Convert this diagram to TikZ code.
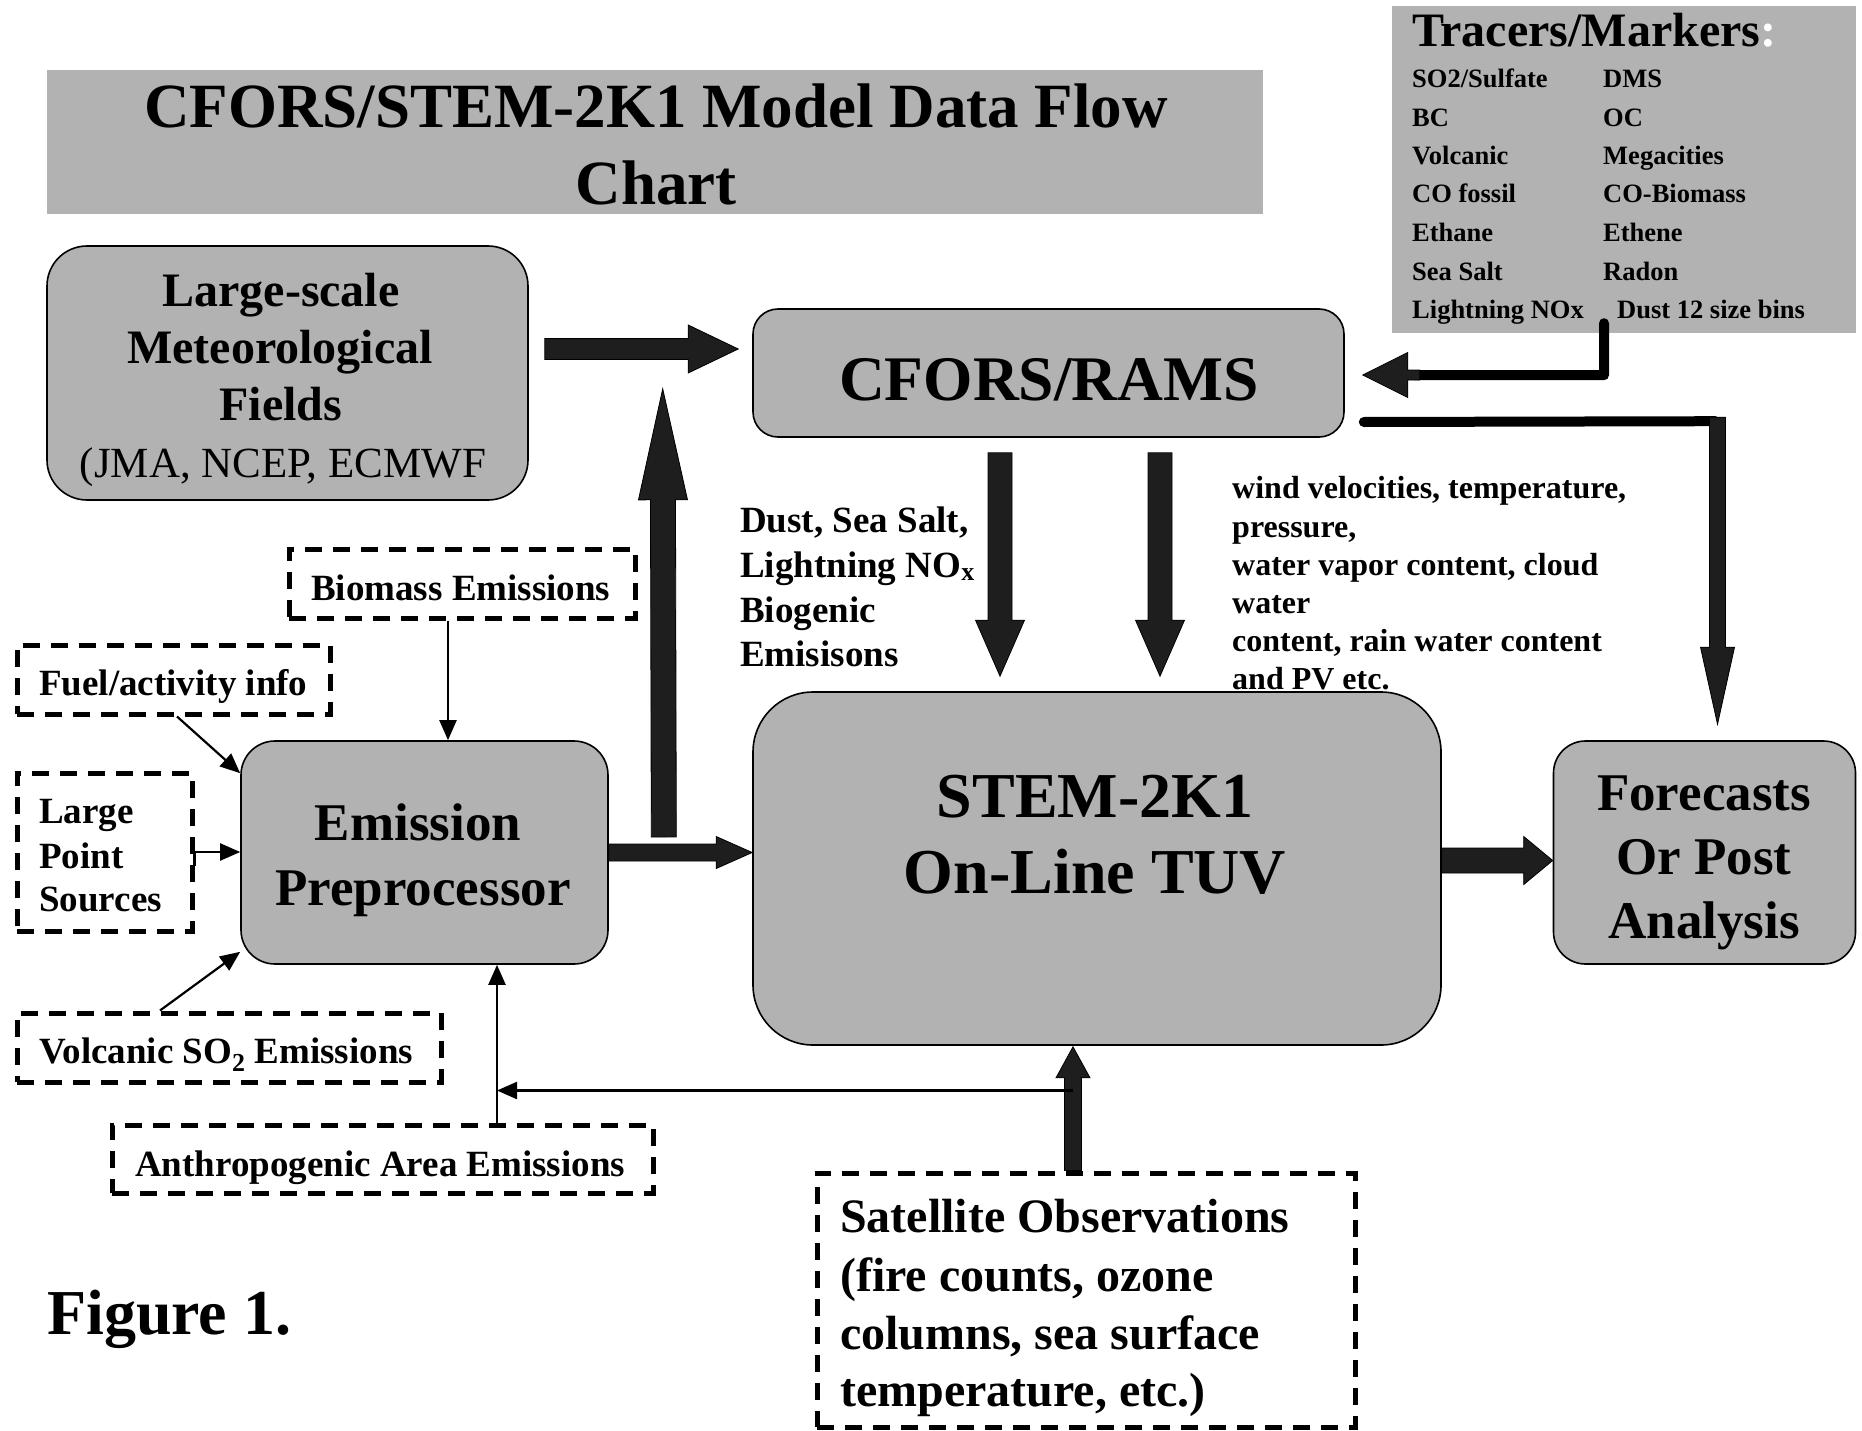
\documentclass[tikz,border=0pt]{standalone}
\usepackage{fontspec}
\setmainfont{Liberation Serif}
\usetikzlibrary{arrows.meta,calc}
\definecolor{boxgray}{RGB}{178,178,178}
\definecolor{arrdark}{RGB}{30,30,30}
\newcommand{\fsz}[2]{\fontsize{#1}{#2}\selectfont}
% block arrow: start, end, shaft half width, head length, head half width
\newcommand{\blkarrow}[5]{%
  \filldraw[fill=arrdark, draw=black, line width=0.8pt]
   let \p1=#1, \p2=#2, \n1={atan2(\y2-\y1,\x2-\x1)}, \n2={veclen(\x2-\x1,\y2-\y1)} in
   [shift={(\p1)}, rotate=\n1]
   (0pt,#3pt) -- ({\n2-#4},#3pt) -- ({\n2-#4},#5pt) -- ({\n2+0},0pt) -- ({\n2-#4},-#5pt) -- ({\n2-#4},-#3pt) -- (0pt,-#3pt) -- cycle;}
\begin{document}
\begin{tikzpicture}[x=1pt,y=-1pt,
  rbox/.style={draw=black, line width=1.6pt, fill=boxgray, inner sep=0pt},
  dbox/.style={draw=black, line width=5pt, dash pattern=on 17pt off 11pt, inner sep=0pt},
  gbox/.style={fill=boxgray, inner sep=0pt},
  lbl/.style={inner sep=0pt, anchor=base},
  lbll/.style={inner sep=0pt, anchor=base west},
  thinarr/.style={draw=black, line width=2.2pt, -{Triangle[length=20pt,width=17pt]}},
  fat/.style={draw=black, line width=10pt, line cap=round, line join=round},
]
\fill[white] (0,0) rectangle (1862,1431);
\useasboundingbox (0,0) rectangle (1862,1431);

% ---------- title ----------
\node[gbox, minimum width=1216, minimum height=144] (title) at (655,142) {};
\node[lbl, font=\bfseries\fsz{63}{77}] (titleA) at (656,128) {CFORS/STEM-2K1 Model Data Flow};
\node[lbl, font=\bfseries\fsz{63}{77}] (titleB) at (656,205) {Chart};

% ---------- tracers ----------
\node[gbox, minimum width=464, minimum height=327] (tracers) at (1624,169.5) {};
\node[lbll, font=\bfseries\fsz{48}{58}] (trTitle) at (1412,47) {Tracers/Markers\textcolor{white}{ :}};
\begin{scope}[every node/.style={lbll, font=\bfseries\fsz{26.5}{32}}]
\node (tr1a) at (1412,88) {SO2/Sulfate};
\node (tr1b) at (1603,88) {DMS};
\node (tr2a) at (1412,127) {BC};
\node (tr2b) at (1603,127) {OC};
\node (tr3a) at (1412,165) {Volcanic};
\node (tr3b) at (1603,165) {Megacities};
\node (tr4a) at (1412,203) {CO fossil};
\node (tr4b) at (1603,203) {CO-Biomass};
\node (tr5a) at (1412,242) {Ethane};
\node (tr5b) at (1603,242) {Ethene};
\node (tr6a) at (1412,280) {Sea Salt};
\node (tr6b) at (1603,280) {Radon};
\node (tr7a) at (1412,318) {Lightning NOx};
\node (tr7b) at (1617,318) {Dust 12 size bins};
\end{scope}

% ---------- main boxes ----------
\node[rbox, rounded corners=40pt, minimum width=481, minimum height=254] (met) at (287.5,373) {};
\node[lbl, font=\bfseries\fsz{48}{57}] (metA) at (281,306) {Large-scale};
\node[lbl, font=\bfseries\fsz{48}{57}] (metB) at (280,363) {Meteorological};
\node[lbl, font=\bfseries\fsz{48}{57}] (metC) at (281,420) {Fields};
\node[lbl, font=\fsz{43}{52}] (metD) at (283,477) {(JMA, NCEP, ECMWF};

\node[rbox, rounded corners=25pt, minimum width=591, minimum height=128] (cfors) at (1048.5,373) {};
\node[lbl, font=\bfseries\fsz{63.5}{76}] (cforsT) at (1049,400) {CFORS/RAMS};

\node[rbox, rounded corners=60pt, minimum width=688, minimum height=353] (stem) at (1097,868.5) {};
\node[lbl, font=\bfseries\fsz{64}{76}] (stemA) at (1095,817) {STEM-2K1};
\node[lbl, font=\bfseries\fsz{64}{76}] (stemB) at (1095,893) {On-Line TUV};

\node[rbox, rounded corners=34pt, minimum width=367, minimum height=223] (emis) at (424.5,852.5) {};
\node[lbl, font=\bfseries\fsz{53}{65}] (emisA) at (418,840) {Emission};
\node[lbl, font=\bfseries\fsz{53}{65}] (emisB) at (423,905) {Preprocessor};

\node[rbox, rounded corners=32pt, minimum width=302, minimum height=223] (fore) at (1704.5,852.5) {};
\node[lbl, font=\bfseries\fsz{53}{62}] (foreA) at (1704,810) {Forecasts};
\node[lbl, font=\bfseries\fsz{53}{62}] (foreB) at (1704,874) {Or Post};
\node[lbl, font=\bfseries\fsz{53}{62}] (foreC) at (1704,938) {Analysis};

% ---------- dashed input boxes ----------
\node[dbox, minimum width=346, minimum height=69] (biomass) at (462,583.5) {};
\node[lbll, font=\bfseries\fsz{37}{44}] (bioT) at (311,600) {Biomass Emissions};
\node[dbox, minimum width=313, minimum height=69] (fuel) at (173.5,679.5) {};
\node[lbll, font=\bfseries\fsz{37}{44}] (fuelT) at (39,695) {Fuel/activity info};
\node[dbox, minimum width=175, minimum height=158] (lps) at (104.5,852) {};
\node[lbll, font=\bfseries\fsz{37}{44}] (lpsA) at (39,823) {Large};
\node[lbll, font=\bfseries\fsz{37}{44}] (lpsB) at (39,868) {Point};
\node[lbll, font=\bfseries\fsz{37}{44}] (lpsC) at (39,911) {Sources};
\node[dbox, minimum width=424, minimum height=69] (volc) at (229,1047.5) {};
\node[lbll, font=\bfseries\fsz{37}{44}] (volcT) at (39,1063) {Volcanic SO\textsubscript{2} Emissions};
\node[dbox, minimum width=541, minimum height=68] (anthro) at (382.5,1159) {};
\node[lbll, font=\bfseries\fsz{37}{44}] (anthroT) at (135,1176) {Anthropogenic Area Emissions};
\node[dbox, minimum width=538, minimum height=254] (sat) at (1086,1300) {};
\node[lbll, font=\bfseries\fsz{48}{57}] (satA) at (840,1232) {Satellite Observations};
\node[lbll, font=\bfseries\fsz{48}{57}] (satB) at (840,1291) {(fire counts, ozone};
\node[lbll, font=\bfseries\fsz{48}{57}] (satC) at (840,1349) {columns, sea surface};
\node[lbll, font=\bfseries\fsz{48}{57}] (satD) at (840,1406) {temperature, etc.)};

% ---------- free labels ----------
\begin{scope}[every node/.style={lbll, font=\bfseries\fsz{37}{44}}]
\node (dustA) at (740,532) {Dust, Sea Salt,};
\node (dustB) at (740,577) {Lightning NO\textsubscript{x}};
\node (dustC) at (740,622) {Biogenic};
\node (dustD) at (740,666) {Emisisons};
\end{scope}
\begin{scope}[every node/.style={lbll, font=\bfseries\fsz{32}{38}}]
\node (windA) at (1232,498) {wind velocities, temperature,};
\node (windB) at (1232,537) {pressure,};
\node (windC) at (1232,575) {water vapor content, cloud};
\node (windD) at (1232,613) {water};
\node (windE) at (1232,651) {content, rain water content};
\node (windF) at (1232,689) {and PV etc.};
\end{scope}
\node[lbll, font=\bfseries\fsz{64}{76}] (fig) at (47,1334) {Figure 1.};

% ---------- thick block arrows ----------
\blkarrow{($(met.east)+(16,-24)$)}{($(cfors.west)+(-14,-24)$)}{10.5}{50}{24}
\blkarrow{($(emis.east)+(55,-15.5)$)}{($(cfors.south west)+(-89.5,-49)$)}{12.5}{111}{24.5}
\blkarrow{(emis.east)}{(emis.east -| stem.west)}{8.5}{36}{16}
\blkarrow{($(stem.east)+(0,-8)$)}{($(fore.west)+(0,8)$)}{12.5}{29}{24}
\blkarrow{($(cfors.south)+(-48.5,15)$)}{($(stem.north)+(-97,-15)$)}{12}{56}{24.5}
\blkarrow{($(cfors.south)+(111.5,15)$)}{($(stem.north)+(63,-15)$)}{12}{56}{24.5}
\blkarrow{($(sat.north)+(-13,0)$)}{($(stem.south)+(-24,1)$)}{8.5}{31}{17}

% tracers -> CFORS/RAMS elbow
\draw[fat] ($(tracers.south)+(-20,-10)$) -- ++(0,52) -- ($(cfors.east)+(70,2)$);
\blkarrow{($(cfors.east)+(75,2)$)}{($(cfors.east)+(18,2)$)}{5}{45}{22.5}
% CFORS/RAMS -> Forecasts elbow
\draw[fat] ($(cfors.east)+(19,49)$) -- ($(fore.north)+(11,-319)$);
\blkarrow{($(fore.north)+(13,-323)$)}{($(fore.north)+(13,-16)$)}{8}{77}{17}

% ---------- thin arrows ----------
\draw[thinarr] ($(biomass.south)+(-14,0)$) -- ($(biomass.south |- emis.north)+(-14,0)$);
\draw[thinarr] ($(fuel.south)+(3.5,0)$) -- ($(emis.north west)+(0,33)$);
\draw[thinarr] ($(lps.east)+(0,14)$) -- (lps.east) -- (emis.west |- lps.east);
\draw[thinarr] ($(volc.north)+(-69,0)$) -- ($(emis.south west)+(0,-13)$);
\draw[thinarr] ($(anthro.north)+(114.5,0)$) -- ($(emis.south)+(72.5,0)$);
\draw[thinarr] ($(sat.north)+(-13,-80)$) -- ($(anthro.north)+(114.5,-32)$);
\end{tikzpicture}
\end{document}
